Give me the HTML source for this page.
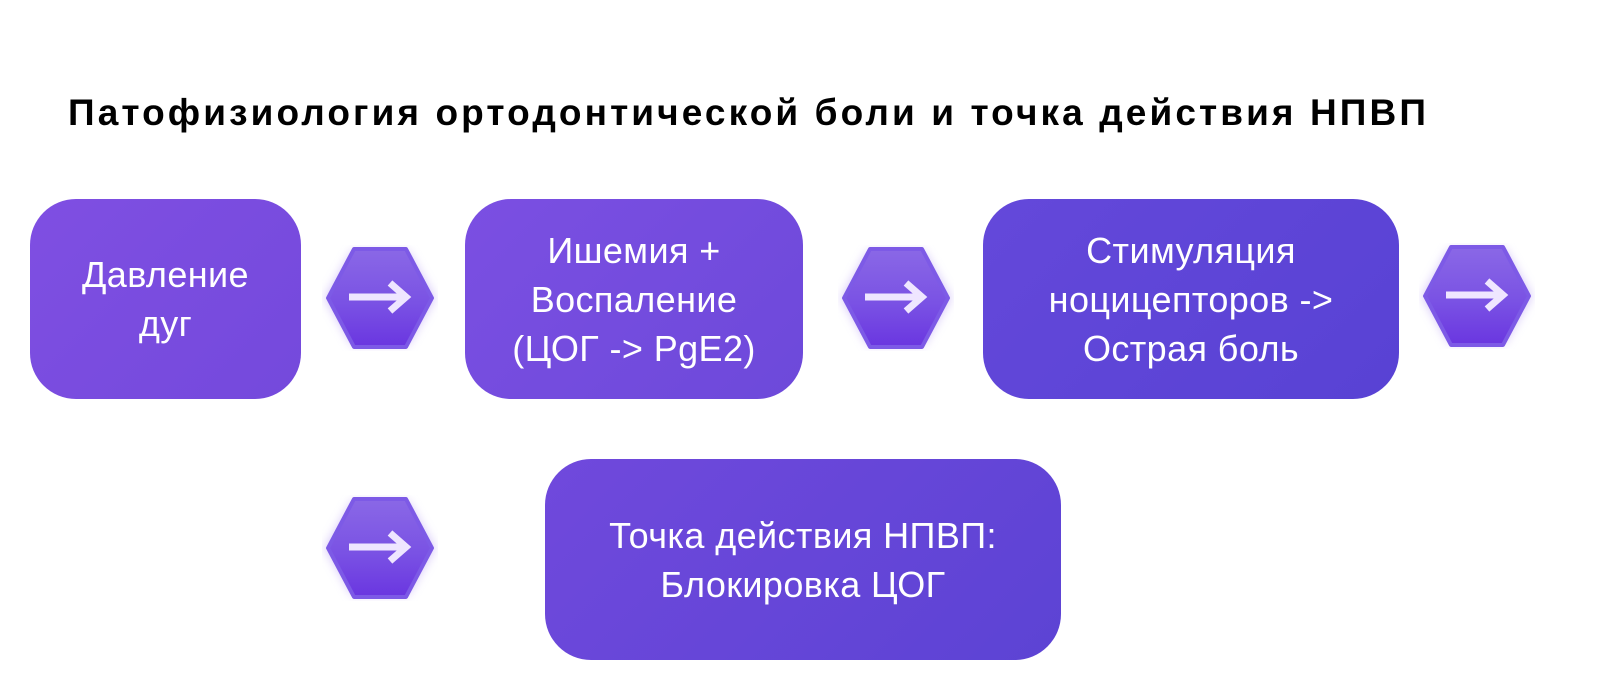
<!DOCTYPE html>
<html><head><meta charset="utf-8"><style>
body{margin:0;width:1600px;height:673px;background:#fff;position:relative;overflow:hidden;font-family:"Liberation Sans",sans-serif}
.t{position:absolute;left:68px;top:94px;font-size:37px;line-height:37px;font-weight:bold;color:#000;letter-spacing:3.1px;white-space:nowrap}
.b{position:absolute;border-radius:46px;color:#fff;display:flex;align-items:center;justify-content:center;text-align:center;font-size:36px;line-height:49px;letter-spacing:0.4px}
.h{position:absolute;width:116px;height:106px}
</style></head><body>
<div class="t">Патофизиология ортодонтической боли и точка действия НПВП</div>
<div class="b" style="left:30px;top:199px;width:271px;height:200px;background:linear-gradient(135deg,#7f4fe2,#7449dc)">Давление<br>дуг</div>
<div class="b" style="left:465px;top:199px;width:338px;height:200px;background:linear-gradient(135deg,#7b4fe2,#6d49da)">Ишемия +<br>Воспаление<br>(ЦОГ -&gt; PgE2)</div>
<div class="b" style="left:983px;top:199px;width:416px;height:200px;background:linear-gradient(135deg,#6448da,#5842d4)">Стимуляция<br>ноцицепторов -&gt;<br>Острая боль</div>
<div class="b" style="left:545px;top:459px;width:516px;height:201px;background:linear-gradient(135deg,#7049dc,#5c43d4)">Точка действия НПВП:<br>Блокировка ЦОГ</div>
<svg width="0" height="0" style="position:absolute"><defs>
<linearGradient id="g" x1="0" y1="0" x2="0" y2="1"><stop offset="0" stop-color="#8a68e6"/><stop offset="0.55" stop-color="#7a52e4"/><stop offset="1" stop-color="#6a36e0"/></linearGradient>
<filter id="f" x="-30%" y="-30%" width="160%" height="160%"><feGaussianBlur stdDeviation="5"/></filter></defs></svg>
<svg class="h" style="left:322px;top:245px" viewBox="0 0 116 106"><g id="hx"><polygon points="30,6 86,6 113,53 86,100 30,100 3,53" fill="#b9a0f5" filter="url(#f)" opacity="0.6"/><polygon points="32,4 84,4 110,53 84,102 32,102 6,53" fill="url(#g)" stroke="#7d5ae6" stroke-width="4" stroke-linejoin="round"/><path d="M27 52 H84 M68 38 L84 52 L68 66" stroke="#efe6ff" stroke-width="7" fill="none" stroke-linecap="butt"/></g></svg>
<svg class="h" style="left:838px;top:245px" viewBox="0 0 116 106"><use href="#hx"/></svg>
<svg class="h" style="left:1419px;top:243px" viewBox="0 0 116 106"><use href="#hx"/></svg>
<svg class="h" style="left:322px;top:495px" viewBox="0 0 116 106"><use href="#hx"/></svg>
</body></html>
